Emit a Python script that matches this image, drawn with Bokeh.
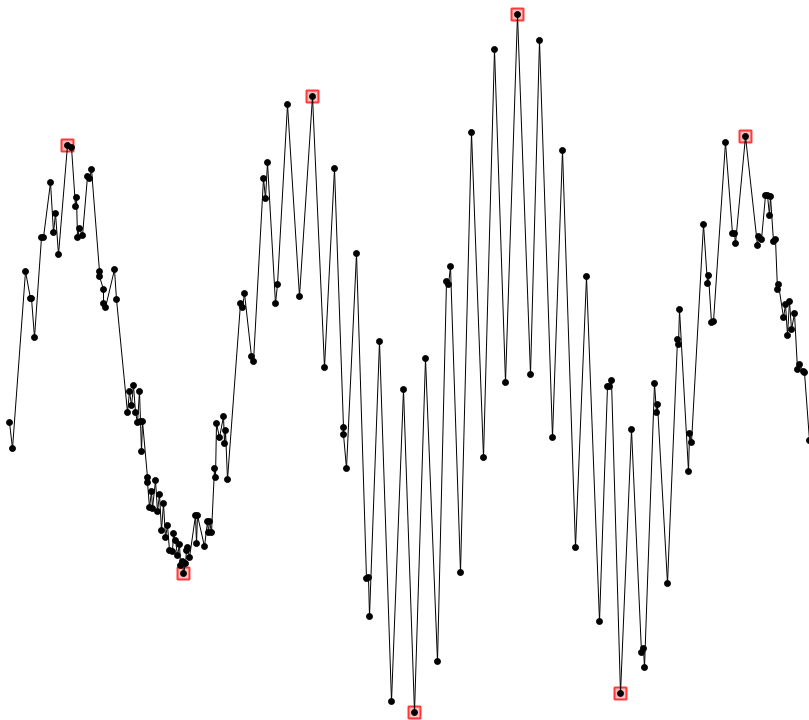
from bokeh.plotting import figure
from bokeh.models import Range1d
from bokeh.embed import file_html
from bokeh.resources import INLINE

# Signal samples (x position, y level; y axis grows downward as in the picture)
xs = [9, 12, 25, 30, 31, 34, 41, 43, 50, 53, 55, 58, 67, 71, 75, 76, 77, 79, 82, 87, 89, 91,
      99, 99, 103, 103, 105, 114, 116, 127, 129, 131, 133, 135, 137, 139, 140, 141, 142,
      147, 147, 149, 151, 152, 155, 157, 159, 161, 163, 165, 167, 169, 172, 173, 175, 177,
      179, 180, 182, 183, 185, 186, 187, 189, 195, 196, 197, 204, 207, 208, 209, 211,
      214, 215, 216, 219, 223, 224, 225, 227, 240, 242, 244, 251, 253, 263, 265, 267,
      275, 277, 287, 299, 312, 324, 334, 343, 343, 346, 356, 366, 368, 369, 379, 391,
      403, 414, 425, 437, 446, 448, 450, 460, 471, 483, 494, 505, 517, 530, 539, 552,
      562, 575, 586, 599, 607, 609, 611, 620, 631, 641, 643, 644, 654, 656, 657, 667,
      677, 678, 679, 688, 689, 691, 703, 707, 708, 711, 713, 725, 732, 734, 735, 745,
      757, 758, 761, 765, 767, 769, 770, 773, 775, 777, 778, 783, 785, 787, 789, 791,
      794, 797, 799, 803, 804, 809]
ys = [422, 448, 271, 298, 298, 337, 237, 237, 182, 232, 213, 254, 145, 147, 206, 197, 237, 228, 235, 176, 178, 169,
      271, 276, 289, 303, 307, 269, 299, 412, 391, 405, 385, 412, 422, 391, 421, 451, 421,
      477, 482, 507, 491, 508, 480, 511, 494, 530, 503, 537, 525, 550, 551, 533, 540, 555,
      544, 565, 561, 573, 563, 550, 547, 557, 515, 543, 515, 546, 521, 532, 521, 532,
      468, 477, 423, 437, 416, 443, 430, 479, 303, 307, 293, 356, 361, 178, 198, 162,
      303, 284, 104, 296, 96, 367, 168, 427, 434, 468, 253, 578, 577, 616, 341, 701,
      389, 712, 358, 661, 281, 284, 266, 572, 132, 457, 49, 382, 14, 374, 40, 437,
      150, 547, 276, 621, 386, 386, 380, 693, 429, 652, 648, 667, 383, 412, 404, 583,
      339, 344, 309, 471, 433, 442, 224, 283, 275, 322, 321, 142, 233, 233, 243, 136,
      245, 236, 239, 195, 195, 215, 196, 241, 239, 289, 284, 317, 304, 335, 301, 329,
      313, 369, 364, 371, 372, 440]

# Highlighted extrema (by x position)
extrema_x = [67, 183, 312, 414, 517, 620, 745]
extrema_y = [ys[xs.index(v)] for v in extrema_x]

p = figure(width=809, height=720, output_backend="svg", toolbar_location=None,
           x_range=Range1d(0, 809), y_range=Range1d(720, 0), min_border=0)
p.axis.visible = False
p.grid.visible = False
p.outline_line_color = None
p.background_fill_color = "white"
p.border_fill_color = "white"

p.scatter(extrema_x, extrema_y, marker="square", size=12, fill_color="red", fill_alpha=0.25,
          line_color="red", line_width=2, line_alpha=0.75)
p.line(xs, ys, line_color="black", line_width=1)
p.scatter(xs, ys, marker="circle", size=6, fill_color="black", line_color="black")

open("out.html", "w").write(file_html(p, INLINE))
